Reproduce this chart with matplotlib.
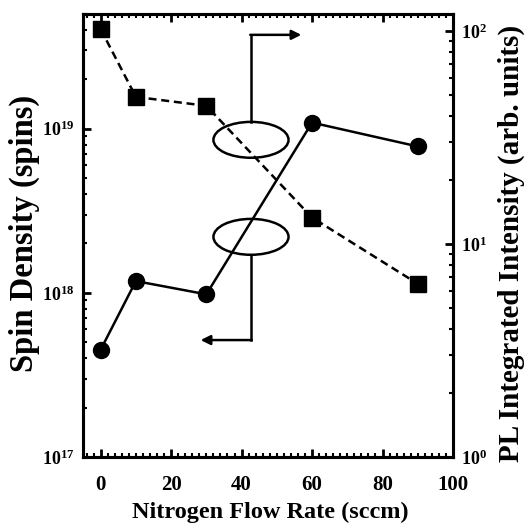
import matplotlib
matplotlib.use('Agg')
import matplotlib.pyplot as plt
from matplotlib.patches import Ellipse
from matplotlib.ticker import FixedLocator, LogLocator, NullFormatter, MultipleLocator
import numpy as np

# --- data ---
flow = [0, 10, 30, 60, 90]
spin_density = [4.5e17, 1.18e18, 9.8e17, 1.09e19, 7.8e18]
flow_pl = [0, 10, 30, 60, 90]
pl_intensity = [102, 49, 44.5, 13.3, 6.5]

x_ticks = [0, 20, 40, 60, 80, 100]
spin_ticks = [1e17, 1e18, 1e19]
spin_labels = ['17', '18', '19']
pl_ticks = [1, 10, 100]
pl_labels = ['0', '1', '2']

plt.rcParams['font.family'] = ['Liberation Serif', 'DejaVu Serif']
plt.rcParams['font.weight'] = 'bold'
plt.rcParams['mathtext.fontset'] = 'custom'
plt.rcParams['mathtext.rm'] = 'Liberation Serif:bold'
plt.rcParams['mathtext.bf'] = 'Liberation Serif:bold'
plt.rcParams['mathtext.it'] = 'Liberation Serif:bold'

fig = plt.figure(figsize=(5.27, 5.27), dpi=100)
ax = fig.add_axes([0.1575, 0.1328, 0.7021, 0.8406])
ax2 = ax.twinx()

# spin density (left, circles, solid)
ax.plot(flow, spin_density, '-', color='black', lw=1.8,
        marker='o', markersize=11.5, zorder=3)
ax.set_yscale('log')
ax.set_ylim(1e17, 5e19)
ax.set_xlim(-5, 100)

# PL (right, squares, dashed)
ax2.plot(flow_pl, pl_intensity, color='black', lw=1.8, ls=(0, (3.2, 1.9)),
         marker='s', markersize=11.5, zorder=3)
ax2.set_yscale('log')
ax2.set_ylim(1, 120)

# ticks
ax.xaxis.set_major_locator(FixedLocator(x_ticks))
ax.xaxis.set_minor_locator(MultipleLocator(2))
ax.set_xticklabels([str(t) for t in x_ticks])
ax.yaxis.set_major_locator(FixedLocator(spin_ticks))
ax.set_yticklabels([r'$\mathbf{10^{%s}}$' % s for s in spin_labels])
ax.yaxis.set_minor_locator(LogLocator(base=10, subs=np.arange(2, 10)))
ax.yaxis.set_minor_formatter(NullFormatter())
ax2.yaxis.set_major_locator(FixedLocator(pl_ticks))
ax2.set_yticklabels([r'$\mathbf{10^{%s}}$' % s for s in pl_labels])
ax2.yaxis.set_minor_locator(LogLocator(base=10, subs=np.arange(2, 10)))
ax2.yaxis.set_minor_formatter(NullFormatter())

ax.tick_params(axis='x', which='both', direction='in', top=True, bottom=True,
               labelsize=15, pad=13)
ax.tick_params(axis='y', which='both', direction='in', left=True, right=False,
               labelsize=13, pad=6)
ax2.tick_params(axis='y', which='both', direction='in', right=True, left=False,
                labelsize=13, pad=6)
for a in (ax, ax2):
    a.tick_params(which='major', length=6, width=2)
    a.tick_params(which='minor', length=3, width=1.5)
    for sp in a.spines.values():
        sp.set_linewidth(2.2)

# axis titles placed where the reference has them
fig.text(0.512, 0.027, 'Nitrogen Flow Rate (sccm)', fontsize=17.5, fontweight='bold',
         ha='center', va='center')
fig.text(0.046, 0.557, 'Spin Density (spins)', fontsize=23.5, fontweight='bold',
         rotation=90, ha='center', va='center')
fig.text(0.970, 0.539, 'PL Integrated Intensity (arb. units)', fontsize=21,
         fontweight='bold', rotation=90, ha='center', va='center')

# ellipses with arrows pointing to each axis
t = ax2.transAxes
ax2.add_patch(Ellipse((0.454, 0.716), 0.203, 0.081, transform=t,
                      fill=False, lw=1.8, ec='black', zorder=4))
ax2.add_patch(Ellipse((0.454, 0.497), 0.203, 0.081, transform=t,
                      fill=False, lw=1.8, ec='black', zorder=4))
ax2.plot([0.454, 0.454], [0.756, 0.953], color='black', lw=1.8, transform=t)
ax2.annotate('', xy=(0.59, 0.953), xytext=(0.452, 0.953), xycoords=t, textcoords=t,
             arrowprops=dict(arrowstyle='-|>', color='black', lw=1.8, mutation_scale=14,
                             shrinkA=0, shrinkB=0))
ax2.plot([0.454, 0.454], [0.456, 0.264], color='black', lw=1.8, transform=t)
ax2.annotate('', xy=(0.318, 0.264), xytext=(0.456, 0.264), xycoords=t, textcoords=t,
             arrowprops=dict(arrowstyle='-|>', color='black', lw=1.8, mutation_scale=14,
                             shrinkA=0, shrinkB=0))

fig.savefig('out.png', dpi=100)
